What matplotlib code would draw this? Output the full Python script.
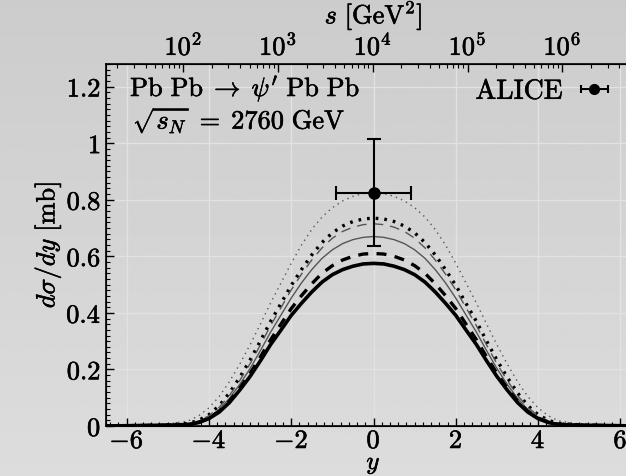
import numpy as np
import matplotlib
matplotlib.use('Agg')
import matplotlib.pyplot as plt
import matplotlib.patheffects as pe
from matplotlib.ticker import MultipleLocator, FixedLocator

plt.rcParams['mathtext.fontset'] = 'cm'
plt.rcParams['font.family'] = 'serif'
plt.rcParams['font.serif'] = ['DejaVu Serif']

# --- data, half of the symmetric curves, y >= 0 ---
y_half = np.array([0, 0.25, 0.5, 0.75, 1.0, 1.25, 1.5, 1.75, 2.0, 2.25, 2.5, 2.75,
                   3.0, 3.25, 3.5, 3.75, 4.0, 4.25, 4.5, 5.0, 5.5, 6.0, 6.5])
thick_solid = [0.575, 0.573, 0.565, 0.553, 0.535, 0.509, 0.474, 0.434, 0.391, 0.339, 0.288, 0.230,
               0.175, 0.127, 0.083, 0.049, 0.026, 0.012, 0.005, 0.003, 0.002, 0.001, 0.0]
thick_dashed = [0.610, 0.608, 0.600, 0.587, 0.567, 0.540, 0.503, 0.461, 0.415, 0.360, 0.305, 0.244,
                0.186, 0.134, 0.088, 0.052, 0.028, 0.013, 0.006, 0.003, 0.002, 0.001, 0.0]
thin_solid = [0.670, 0.667, 0.659, 0.645, 0.623, 0.593, 0.553, 0.506, 0.452, 0.392, 0.332, 0.266,
              0.203, 0.147, 0.098, 0.058, 0.031, 0.015, 0.007, 0.004, 0.002, 0.001, 0.0]
thin_dashed = [0.715, 0.712, 0.703, 0.688, 0.664, 0.630, 0.587, 0.537, 0.481, 0.418, 0.355, 0.286,
               0.220, 0.161, 0.108, 0.066, 0.036, 0.018, 0.008, 0.004, 0.002, 0.001, 0.0]
thick_dotted = [0.735, 0.732, 0.723, 0.707, 0.683, 0.649, 0.605, 0.553, 0.497, 0.433, 0.370, 0.300,
                0.233, 0.172, 0.117, 0.072, 0.040, 0.020, 0.009, 0.004, 0.002, 0.001, 0.0]
thin_dotted = [0.825, 0.822, 0.812, 0.796, 0.772, 0.739, 0.695, 0.640, 0.575, 0.505, 0.435, 0.360,
               0.287, 0.219, 0.157, 0.104, 0.064, 0.036, 0.018, 0.007, 0.003, 0.001, 0.0]

# ALICE point
alice_y = [0.0]
alice_val = [0.825]
alice_yerr = [0.19]
alice_xerr = [0.9]

x_ticks = [-6, -4, -2, 0, 2, 4, 6]
y_ticks = [0, 0.2, 0.4, 0.6, 0.8, 1.0, 1.2]
y_ticklabels = ['$0$', '$0.2$', '$0.4$', '$0.6$', '$0.8$', '$1$', '$1.2$']
s_decades = [2, 3, 4, 5, 6]
m_psi2s = 3.686
sqrt_sn = 2760.0


def mirror(v):
    v = np.asarray(v)
    return np.concatenate([v[::-1], v[1:]])


y_full = np.concatenate([-y_half[::-1], y_half[1:]])

fig = plt.figure(figsize=(6.26, 4.76), dpi=100)

# grey gradient background
bg = fig.add_axes([0, 0, 1, 1], zorder=-10)
bg.imshow(np.linspace(0.80, 0.865, 200).reshape(-1, 1), aspect='auto', cmap='gray',
          vmin=0, vmax=1, extent=[0, 1, 0, 1], origin='upper')
bg.axis('off')

ax = fig.add_axes([106 / 626, 50 / 476, 535 / 626, 362 / 476])
ax.patch.set_alpha(0)

ax.plot(y_full, mirror(thin_dotted), color='#555555', lw=1.0, ls=(0, (1, 3)))
ax.plot(y_full, mirror(thick_dotted), color='black', lw=2.4, ls=(0, (0.8, 1.8)))
ax.plot(y_full, mirror(thin_dashed), color='#555555', lw=1.0, ls=(0, (7, 5)))
ax.plot(y_full, mirror(thin_solid), color='#555555', lw=1.0)
ax.plot(y_full, mirror(thick_dashed), color='black', lw=2.4, ls=(0, (3, 2.5)))
ax.plot(y_full, mirror(thick_solid), color='black', lw=2.6)

ax.errorbar(alice_y, alice_val, yerr=alice_yerr, xerr=alice_xerr, fmt='o', color='black',
            ms=8, lw=1.5, capsize=5, capthick=1.5, zorder=5)
proxy = ax.errorbar([np.nan], [np.nan], xerr=[0.9], fmt='o', color='black', ms=7,
                    lw=1.5, capsize=3, capthick=1.5, label=r'$\mathrm{ALICE}$')
ax.legend(handles=[proxy], loc='upper right', bbox_to_anchor=(0.965, 1.0), frameon=False,
          markerfirst=False, fontsize=20, handlelength=1.0, handletextpad=0.6,
          borderaxespad=0.1)

ax.text(0.045, 0.975, r'$\mathrm{Pb\ Pb}\;\rightarrow\;\psi^{\prime}\ \mathrm{Pb\ Pb}$',
        transform=ax.transAxes, va='top', ha='left', fontsize=19)
ax.text(0.05, 0.885, r'$\sqrt{s_N}\;=\;2760\ \mathrm{GeV}$',
        transform=ax.transAxes, va='top', ha='left', fontsize=19)

ax.set_xlim(-6.5, 6.5)
ax.set_ylim(0, 1.28)
ax.set_xticks(x_ticks)
ax.set_xticklabels(['$%d$' % t for t in x_ticks])
ax.set_yticks(y_ticks)
ax.set_yticklabels(y_ticklabels)
ax.xaxis.set_minor_locator(MultipleLocator(0.2))
ax.yaxis.set_minor_locator(MultipleLocator(0.02))
ax.tick_params(which='both', direction='in', labelsize=19, top=False, right=False)
ax.tick_params(axis='x', which='both', pad=1.5)
ax.tick_params(which='major', length=6, width=1)
ax.tick_params(which='minor', length=3, width=0.8)
ax.grid(True, which='major', color='#e2e2e2', lw=1.0)
ax.set_axisbelow(True)
for sp in ax.spines.values():
    sp.set_linewidth(1.2)

ax.set_xlabel(r'$y$', fontsize=18, labelpad=0)
ax.set_ylabel(r'$d\sigma/dy\ [\mathrm{mb}]$', fontsize=19, labelpad=2)

# top axis: s = M * sqrt(s_N) * exp(y)
top = ax.twiny()
top.set_xlim(ax.get_xlim())
top.patch.set_alpha(0)
major_s = [10.0 ** k for k in s_decades]
top.xaxis.set_major_locator(FixedLocator([np.log(s / (m_psi2s * sqrt_sn)) for s in major_s]))
top.set_xticklabels(['$10^{%d}$' % k for k in s_decades])
minor_s = [m * 10.0 ** k for k in range(1, 8) for m in range(2, 10)]
minor_pos = [np.log(s / (m_psi2s * sqrt_sn)) for s in minor_s]
top.xaxis.set_minor_locator(FixedLocator([p for p in minor_pos if -6.5 <= p <= 6.5]))
top.tick_params(which='both', direction='in', labelsize=19, pad=3)
top.tick_params(which='major', length=6, width=1)
top.tick_params(which='minor', length=3, width=0.8)
top.set_xlabel(r'$s\ [\mathrm{GeV}^2]$', fontsize=19, labelpad=7)

# slightly heavier text, like the reference rendering
fig.canvas.draw()
for t in fig.findobj(matplotlib.text.Text):
    t.set_path_effects([pe.withStroke(linewidth=0.4, foreground='black')])

fig.savefig('out.png', dpi=100)
